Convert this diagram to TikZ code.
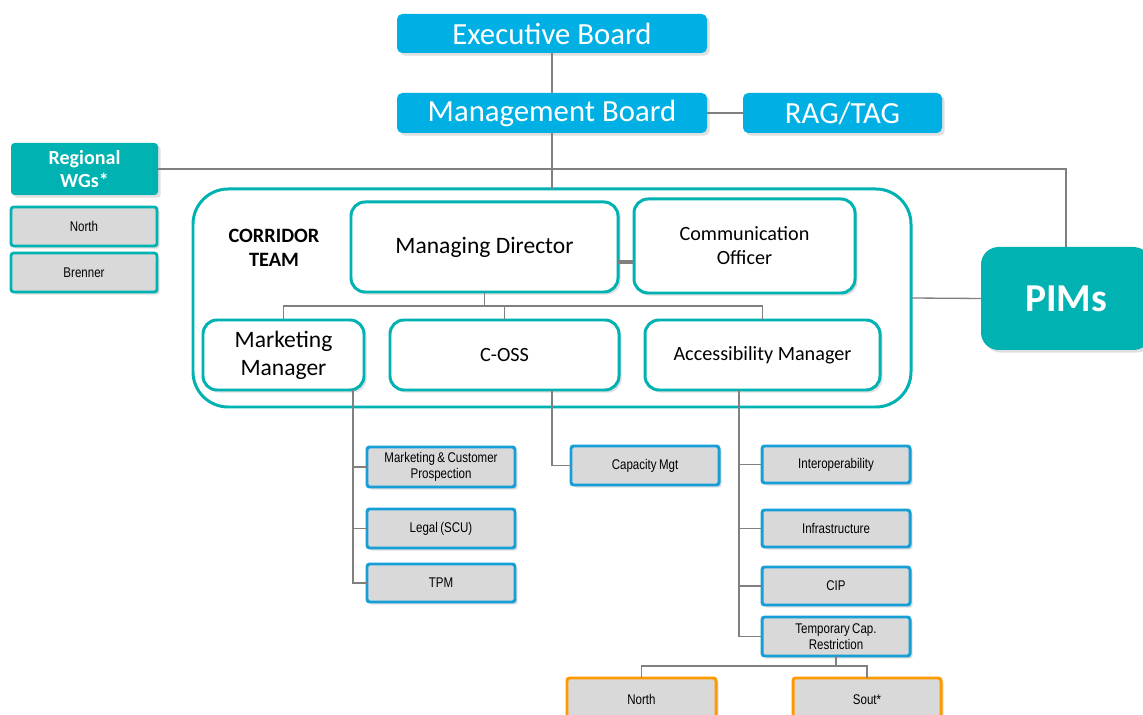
\documentclass[tikz,border=0pt]{standalone}
\usepackage{fontspec}
\setmainfont{Carlito}
\newfontfamily\narrowfont[FakeStretch=0.82,WordSpace=0.75]{Liberation Sans}
\usetikzlibrary{shadows}

\definecolor{boardblue}{RGB}{0,176,228}
\definecolor{teamteal}{RGB}{0,178,178}
\definecolor{taskblue}{RGB}{22,158,214}
\definecolor{wgorange}{RGB}{255,153,0}
\definecolor{cellgrey}{RGB}{217,217,217}
\definecolor{linkgrey}{RGB}{128,128,128}

\tikzset{
  % a box given by its left, top, right and bottom edges (in px units)
  span/.style n args={4}{at={({(#1+#3)/2},{(#2+#4)/2})},
    minimum width={(#3-#1)*0.02cm}, minimum height={(#4-#2)*0.02cm},
    inner sep=0pt, outer sep=0pt, anchor=center, align=center},
  shade/.style={drop shadow={opacity=0.25,shadow xshift=1.5pt,shadow yshift=-1.5pt}},
  board/.style={fill=boardblue, rounded corners=3pt, shade,
    text=white, font=\fontsize{17.5}{20}\selectfont},
  tealbox/.style={fill=teamteal, rounded corners=2pt, shade,
    text=white, font=\bfseries\fontsize{11.4}{13}\selectfont},
  wgitem/.style={fill=cellgrey, draw=teamteal, line width=1.6pt,
    rounded corners=1.5pt, shade, font=\narrowfont\fontsize{8}{9.1}\selectfont},
  role/.style={fill=white, draw=teamteal, line width=1.7pt, rounded corners=8pt, shade},
  task/.style={fill=cellgrey, draw=taskblue, line width=1.7pt,
    rounded corners=1.5pt, shade, font=\narrowfont\fontsize{8}{9.1}\selectfont},
  subtask/.style={task, draw=wgorange},
  link/.style={draw=linkgrey, line width=0.75pt},
  bigrole/.style={font=\fontsize{13.4}{16}\selectfont},
  midrole/.style={font=\fontsize{11.5}{13.7}\selectfont},
}

\begin{document}
\begin{tikzpicture}[x=0.02cm,y=-0.02cm]
\useasboundingbox (0,0) rectangle (1143,715);
\clip (0,0) rectangle (1143,715);

% governance
\node[board, span={397}{14}{707}{53}] (eb) {Executive Board};
\node[board, span={397}{93}{707}{133}] (mb) {Management Board};
\node[board, span={743}{93}{942}{133}] (rag) {RAG/TAG};

% regional working groups
\node[tealbox, span={11}{143}{158}{195}] (rwg) {Regional\\WGs*};
\node[wgitem, span={11}{207}{157}{246}] (wgn) {North};
\node[wgitem, span={11}{253}{157}{292}] (wgb) {Brenner};

% corridor team frame
\node[span={193}{189}{911}{407}, draw=teamteal, line width=1.7pt,
  rounded corners=20pt, fill=white] (ct) {};
\node[font=\bfseries\fontsize{11.6}{13.7}\selectfont, align=center] (ctl) at (274,248) {CORRIDOR\\TEAM};

% infrastructure managers
\node[span={981}{247}{1151}{350}, fill=teamteal, rounded corners=10pt, shade,
  text=white, font=\bfseries\fontsize{22.5}{26}\selectfont] (pims) {PIMs};

% corridor roles
\node[role, bigrole, span={351}{202}{618}{292}] (md) {Managing Director};
\node[role, midrole, span={634}{199}{855}{293}] (co) {Communication\\Officer};
\node[role, bigrole, span={203}{320}{364}{390}] (mm) {Marketing\\Manager};
\node[role, midrole, span={390}{320}{619}{390}] (cos) {C-OSS};
\node[role, midrole, span={645}{320}{880}{390}] (am) {Accessibility Manager};

% working tasks
\node[task, span={367}{447}{515}{487}] (mkt) {Marketing \& Customer\\Prospection};
\node[task, span={367}{509}{515}{548}] (leg) {Legal (SCU)};
\node[task, span={367}{564}{515}{602}] (tpm) {TPM};
\node[task, span={571}{446}{719}{485}] (cap) {Capacity Mgt};
\node[task, span={762}{446}{910}{483}] (iop) {Interoperability};
\node[task, span={762}{510}{910}{547}] (inf) {Infrastructure};
\node[task, span={762}{567}{910}{605}] (cip) {CIP};
\node[task, span={762}{617}{910}{656}] (tcr) {Temporary Cap.\\Restriction};
% these two continue below the lower edge
\node[subtask, span={567}{678}{716}{726}] (tn) {\raisebox{2.8pt}{North}};
\node[subtask, span={793}{678}{941}{726}] (ts) {\raisebox{2.8pt}{Sout*}};

% connectors
\draw[link] (eb) -- (mb);
\draw[link] (mb) -- (rag);
\draw[link] (mb.south) -- (mb.south |- ct.north);
\draw[link] (rwg.east) -| (pims.north);
\draw[link] (ct.east) -- (pims.west);
\coordinate (mdco) at (618,262);
\draw[linkgrey, line width=1.8pt] (mdco) -- (mdco -| co.west);

\draw[link] (md.south) -- ++(0,14);
\draw[link] (mm.north) -- ++(0,-14) -| (am.north);
\draw[link] (cos.north) -- ++(0,-14);

\coordinate (mmtap) at (353,390);
\draw[link] (mmtap) |- (tpm.west);
\draw[link] (mmtap |- mkt.west) -- (mkt.west);
\draw[link] (mmtap |- leg.west) -- (leg.west);

\coordinate (costap) at (552,390);
\draw[link] (costap) |- (cap.west);

\coordinate (amtap) at (739,390);
\draw[link] (amtap) |- (tcr.west);
\draw[link] (amtap |- iop.west) -- (iop.west);
\draw[link] (amtap |- inf.west) -- (inf.west);
\draw[link] (amtap |- cip.west) -- (cip.west);

\draw[link] (tcr.south) -- ++(0,10) -| (tn.north);
\draw[link] (tcr.south) ++(0,10) -| (ts.north);
\end{tikzpicture}
\end{document}
